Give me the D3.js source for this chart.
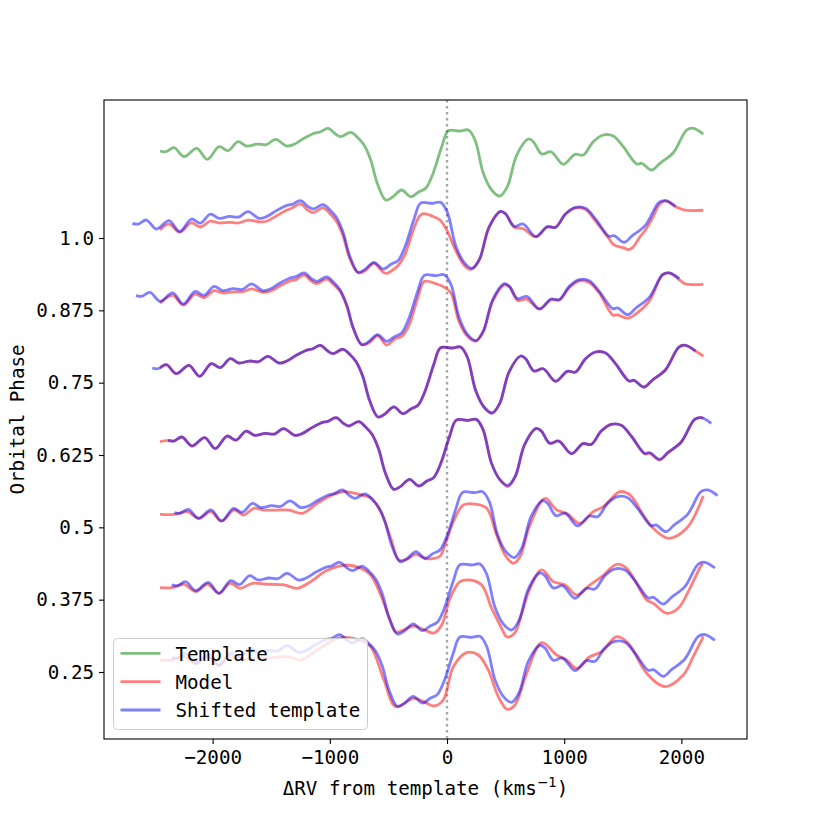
<!DOCTYPE html>
<html><head><meta charset="utf-8">
<script src="https://cdn.jsdelivr.net/npm/d3@7"></script>
<style>body{margin:0;background:#fff} text{font-family:"DejaVu Sans Mono",monospace;fill:#000}</style>
</head><body><svg id="c" width="830" height="830" xmlns="http://www.w3.org/2000/svg"></svg>
<script>
// ---- data ----
const phases = [1.0, 0.875, 0.75, 0.625, 0.5, 0.375, 0.25];
const yTickLabels = ["1.0", "0.875", "0.75", "0.625", "0.5", "0.375", "0.25"];
const xTicks = [-2000, -1000, 0, 1000, 2000];
const templateOffset = 1.125;
// RV shift of the template for each phase (km/s)
const shifts = [-236, -205, -66, 68, 122, 99, 99];
// template profile: velocity (km/s) and value (phase units)
const templateV = [-2449,-2400,-2329,-2244,-2136,-2045,-1945,-1869,-1783,-1709,-1619,-1542,-1462,-1368,-1305,-1220,-1135,-1084,-1015,-949,-907,-821,-765,-708,-651,-595,-523,-467,-387,-310,-239,-182,-124,-45,11,111,182,239,310,381,452,515,595,694,737,808,887,993,1092,1163,1248,1334,1419,1504,1619,1661,1747,1817,1931,2045,2102,2187];
const templateF = [0.0254,0.0241,0.0311,0.0155,0.0300,0.0110,0.0328,0.0259,0.0414,0.0340,0.0374,0.0362,0.0456,0.0340,0.0369,0.0473,0.0559,0.0582,0.0646,0.0542,0.0501,0.0577,0.0490,0.0357,0.0098,-0.0305,-0.0593,-0.0547,-0.0420,-0.0536,-0.0450,-0.0391,-0.0161,0.0328,0.0604,0.0599,0.0616,0.0444,-0.0132,-0.0420,-0.0524,-0.0363,0.0184,0.0461,0.0414,0.0202,0.0241,0.0024,0.0196,0.0184,0.0414,0.0530,0.0513,0.0328,0.0029,0.0041,-0.0075,0.0041,0.0224,0.0616,0.0646,0.0547];
// model profiles per phase: [velocity, value]
const model100 = [[-2449,0.014],[-2372,0.024],[-2281,0.010],[-2182,0.026],[-2105,0.019],[-2020,0.029],[-1945,0.026],[-1855,0.027],[-1778,0.026],[-1698,0.031],[-1604,0.028],[-1542,0.029],[-1456,0.038],[-1371,0.048],[-1320,0.052],[-1252,0.059],[-1186,0.048],[-1143,0.044],[-1058,0.052],[-1002,0.043],[-944,0.029],[-887,0.004],[-831,-0.035],[-759,-0.060],[-703,-0.057],[-623,-0.044],[-546,-0.059],[-514,-0.061],[-475,-0.057],[-418,-0.048],[-360,-0.029],[-282,0.017],[-230,0.039],[-196,0.042],[-128,0.038],[-60,0.031],[-3,0.014],[73,-0.021],[145,-0.047],[188,-0.054],[216,-0.053],[278,-0.036],[358,0.019],[457,0.046],[500,0.042],[572,0.019],[651,0.016],[756,0.002],[856,0.019],[927,0.019],[1012,0.042],[1097,0.052],[1183,0.049],[1268,0.029],[1382,-0.001],[1425,-0.012],[1510,-0.017],[1547,-0.020],[1581,-0.017],[1647,0.002],[1694,0.014],[1760,0.037],[1809,0.057],[1865,0.064],[1950,0.054],[1988,0.051],[2031,0.048],[2187,0.048]];
const model0875 = [[-2449,0.0125],[-2341,0.026],[-2250,0.009],[-2150,0.028],[-2074,0.022],[-1988,0.034],[-1914,0.030],[-1824,0.032],[-1747,0.032],[-1667,0.037],[-1573,0.031],[-1510,0.033],[-1425,0.042],[-1340,0.051],[-1289,0.053],[-1220,0.061],[-1154,0.050],[-1112,0.046],[-1026,0.054],[-970,0.045],[-913,0.033],[-856,0.008],[-800,-0.031],[-728,-0.059],[-672,-0.057],[-592,-0.044],[-515,-0.060],[-444,-0.049],[-387,-0.045],[-329,-0.028],[-250,0.021],[-194,0.050],[-94,0.046],[-23,0.040],[34,0.030],[105,-0.021],[176,-0.045],[247,-0.053],[310,-0.036],[390,0.016],[489,0.044],[532,0.041],[603,0.017],[682,0.019],[788,0.002],[887,0.018],[958,0.018],[1043,0.039],[1129,0.051],[1214,0.048],[1299,0.030],[1414,-0.008],[1456,-0.008],[1542,-0.0135],[1612,-0.006],[1726,0.016],[1840,0.0616],[1897,0.0646],[1982,0.053],[2030,0.046],[2187,0.045]];
const model075 = [[-2449,0.026],[-2395,0.0311],[-2310,0.0155],[-2202,0.0300],[-2111,0.0110],[-2011,0.0328],[-1935,0.0259],[-1849,0.0414],[-1775,0.0340],[-1685,0.0374],[-1608,0.0362],[-1528,0.0456],[-1434,0.0340],[-1371,0.0369],[-1286,0.0473],[-1201,0.0559],[-1150,0.0582],[-1081,0.0646],[-1015,0.0542],[-973,0.0501],[-887,0.0577],[-831,0.0490],[-774,0.0357],[-717,0.0098],[-661,-0.0305],[-589,-0.0593],[-533,-0.0547],[-453,-0.0420],[-376,-0.0536],[-305,-0.0450],[-248,-0.0391],[-190,-0.0161],[-111,0.0328],[-55,0.0604],[45,0.0599],[116,0.0616],[173,0.0444],[244,-0.0132],[315,-0.0420],[386,-0.0524],[449,-0.0363],[529,0.0184],[628,0.0461],[671,0.0414],[742,0.0202],[821,0.0241],[927,0.0024],[1026,0.0196],[1097,0.0184],[1182,0.0414],[1268,0.0530],[1353,0.0513],[1438,0.0328],[1553,0.0029],[1595,0.0041],[1681,-0.0075],[1751,0.0041],[1865,0.0224],[1979,0.0616],[2036,0.0646],[2121,0.0547],[2187,0.046]];
const model0625 = [[-2449,0.023],[-2381,0.0254],[-2332,0.0241],[-2261,0.0311],[-2176,0.0155],[-2068,0.0300],[-1977,0.0110],[-1877,0.0328],[-1801,0.0259],[-1715,0.0414],[-1641,0.0340],[-1551,0.0374],[-1474,0.0362],[-1394,0.0456],[-1300,0.0340],[-1237,0.0369],[-1152,0.0473],[-1067,0.0559],[-1016,0.0582],[-947,0.0646],[-881,0.0542],[-839,0.0501],[-753,0.0577],[-697,0.0490],[-640,0.0357],[-583,0.0098],[-527,-0.0305],[-455,-0.0593],[-399,-0.0547],[-319,-0.0420],[-242,-0.0536],[-171,-0.0450],[-114,-0.0391],[-56,-0.0161],[23,0.0328],[79,0.0604],[179,0.0599],[250,0.0616],[307,0.0444],[378,-0.0132],[449,-0.0420],[520,-0.0544],[583,-0.0373],[663,0.0184],[762,0.0461],[805,0.0414],[876,0.0202],[955,0.0241],[1061,0.0024],[1160,0.0196],[1231,0.0184],[1316,0.0414],[1402,0.0530],[1487,0.0513],[1572,0.0328],[1687,0.0019],[1729,0.0031],[1815,-0.0085],[1885,0.0041],[1999,0.0224],[2113,0.0616],[2170,0.0646],[2187,0.063]];
const model05 = [[-2449,0.0225],[-2323,0.0225],[-2216,0.027],[-2116,0.0156],[-2016,0.027],[-1926,0.0109],[-1817,0.0299],[-1738,0.0213],[-1647,0.0329],[-1561,0.0299],[-1448,0.0299],[-1348,0.0299],[-1235,0.0242],[-1107,0.0415],[-992,0.0547],[-879,0.0616],[-822,0.0605],[-708,0.0547],[-651,0.0512],[-566,0.027],[-480,-0.019],[-410,-0.0565],[-341,-0.055],[-267,-0.0466],[-182,-0.054],[-111,-0.0535],[-60,-0.050],[-3,-0.0219],[54,0.0097],[139,0.0386],[253,0.0398],[339,0.0329],[424,-0.0133],[495,-0.0478],[566,-0.0622],[623,-0.0508],[708,0.004],[836,0.0502],[936,0.0299],[1021,0.0242],[1135,0.007],[1248,0.027],[1334,0.0357],[1476,0.0616],[1561,0.0559],[1675,0.0213],[1760,-0.0017],[1888,-0.019],[2045,-0.0017],[2187,0.0547]];
const model0375 = [[-2449,0.0207],[-2344,0.0207],[-2244,0.0266],[-2144,0.0138],[-2045,0.0266],[-1945,0.011],[-1851,0.0283],[-1766,0.0196],[-1661,0.0283],[-1533,0.0266],[-1391,0.0254],[-1277,0.0196],[-1163,0.0311],[-1035,0.0495],[-936,0.057],[-851,0.0599],[-736,0.0542],[-651,0.0426],[-566,0.0081],[-480,-0.0381],[-435,-0.0559],[-282,-0.0455],[-190,-0.0525],[-111,-0.0576],[-45,-0.0438],[26,0.0024],[111,0.0311],[196,0.034],[296,0.0254],[381,-0.0149],[452,-0.0438],[514,-0.0645],[580,-0.057],[636,-0.025],[708,0.0196],[808,0.0513],[907,0.0311],[1007,0.0254],[1107,0.0081],[1220,0.0254],[1320,0.0397],[1448,0.0611],[1533,0.0542],[1704,-0.0006],[1760,-0.0063],[1874,-0.0236],[1973,-0.0149],[2073,0.0196],[2173,0.0599],[2187,0.0617]];
const model025 = [[-2449,0.0207],[-2347,0.0207],[-2244,0.026],[-2144,0.014],[-2045,0.026],[-1945,0.012],[-1851,0.028],[-1766,0.020],[-1647,0.0237],[-1533,0.024],[-1363,0.0264],[-1248,0.0207],[-1107,0.038],[-936,0.0582],[-853,0.0596],[-736,0.0541],[-651,0.0437],[-538,-0.0138],[-438,-0.060],[-282,-0.0455],[-190,-0.052],[-111,-0.0588],[-32,-0.0484],[54,0.0092],[168,0.0334],[267,0.0294],[352,0.0035],[438,-0.0427],[514,-0.0645],[580,-0.057],[680,-0.0022],[808,0.0506],[936,0.0294],[1021,0.0207],[1107,0.0064],[1220,0.0264],[1320,0.0351],[1448,0.061],[1547,0.0496],[1704,-0.0022],[1860,-0.0254],[2016,-0.0052],[2101,0.0264],[2187,0.061]];
const models = [model100, model0875, model075, model0625, model05, model0375, model025];
const legendLabels = ["Template", "Model", "Shifted template"];

// ---- drawing ----
const svg = d3.select("#c");
const L = 104, R = 747, T = 100, B = 739;
const x = d3.scaleLinear().domain([-2927, 2560]).range([L, R]);
const y = d3.scaleLinear().domain([0.1342, 1.2385]).range([B, T]);
const line = d3.line().x(d => x(d[0])).y(d => y(d[1])).curve(d3.curveCatmullRom.alpha(0.5));
const LW = 2.8;
const cT = "#008000", cM = "#ff0000", cS = "#0000ff";

const plot = svg.append("g");
plot.append("line").attr("x1", x(0)).attr("x2", x(0)).attr("y1", T).attr("y2", B)
  .attr("stroke", "#a8a8a8").attr("stroke-width", 2.4).attr("stroke-dasharray", "2.4,3.6");

plot.append("path").datum(templateV.map((v, i) => [v, templateOffset + templateF[i]]))
  .attr("d", line).attr("fill", "none").attr("stroke", cT).attr("stroke-opacity", 0.5).attr("stroke-width", LW);

phases.forEach((p, k) => {
  plot.append("path").datum(models[k].map(d => [d[0], p + d[1]]))
    .attr("d", line).attr("fill", "none").attr("stroke", cM).attr("stroke-opacity", 0.5)
    .attr("stroke-width", LW).attr("stroke-linejoin", "round");
  plot.append("path").datum(templateV.map((v, i) => [v + shifts[k], p + templateF[i]]))
    .attr("d", line).attr("fill", "none").attr("stroke", cS).attr("stroke-opacity", 0.5)
    .attr("stroke-width", LW).attr("stroke-linejoin", "round");
});

// axes
const FS = 19.2;
const xa = svg.append("g").attr("transform", `translate(0,${B})`)
  .call(d3.axisBottom(x).tickValues(xTicks).tickFormat(d3.format("d")).tickSize(5).tickPadding(5).tickSizeOuter(0));
xa.select(".domain").remove();
xa.selectAll("text").attr("font-size", FS).attr("font-family", "DejaVu Sans Mono").attr("dy", "0.76em");
xa.selectAll("line").attr("stroke-width", 1.1);

const ya = svg.append("g").attr("transform", `translate(${L},0)`)
  .call(d3.axisLeft(y).tickValues(phases).tickFormat((d, i) => yTickLabels[i]).tickSize(5).tickPadding(5).tickSizeOuter(0));
ya.select(".domain").remove();
ya.selectAll("text").attr("font-size", FS).attr("font-family", "DejaVu Sans Mono");
ya.selectAll("line").attr("stroke-width", 1.1);

svg.append("rect").attr("x", L).attr("y", T).attr("width", R - L).attr("height", B - T)
  .attr("fill", "none").attr("stroke", "#000").attr("stroke-width", 1.1);

// labels
const xl = svg.append("text").attr("x", (L + R) / 2).attr("y", 795).attr("text-anchor", "middle").attr("font-size", FS);
xl.append("tspan").text("ΔRV from template (kms");
xl.append("tspan").attr("font-size", FS * 0.7).attr("dy", -8).attr("font-family", "DejaVu Sans").text("−1");
xl.append("tspan").attr("dy", 8).text(")");

svg.append("text").attr("transform", `translate(24,${(T + B) / 2}) rotate(-90)`)
  .attr("text-anchor", "middle").attr("font-size", FS).text("Orbital Phase");

// legend
const lg = svg.append("g");
lg.append("rect").attr("x", 113.5).attr("y", 638.5).attr("width", 254).attr("height", 91).attr("rx", 4)
  .attr("fill", "#fff").attr("fill-opacity", 0.8).attr("stroke", "#cccccc").attr("stroke-width", 1);
[cT, cM, cS].forEach((c, i) => {
  const ly = 653.3 + i * 28.35;
  lg.append("line").attr("x1", 120.5).attr("x2", 160.5).attr("y1", ly).attr("y2", ly)
    .attr("stroke", c).attr("stroke-opacity", 0.5).attr("stroke-width", LW);
  lg.append("text").attr("x", 175.5).attr("y", ly + 7.2).attr("font-size", FS).text(legendLabels[i]);
});
</script></body></html>
